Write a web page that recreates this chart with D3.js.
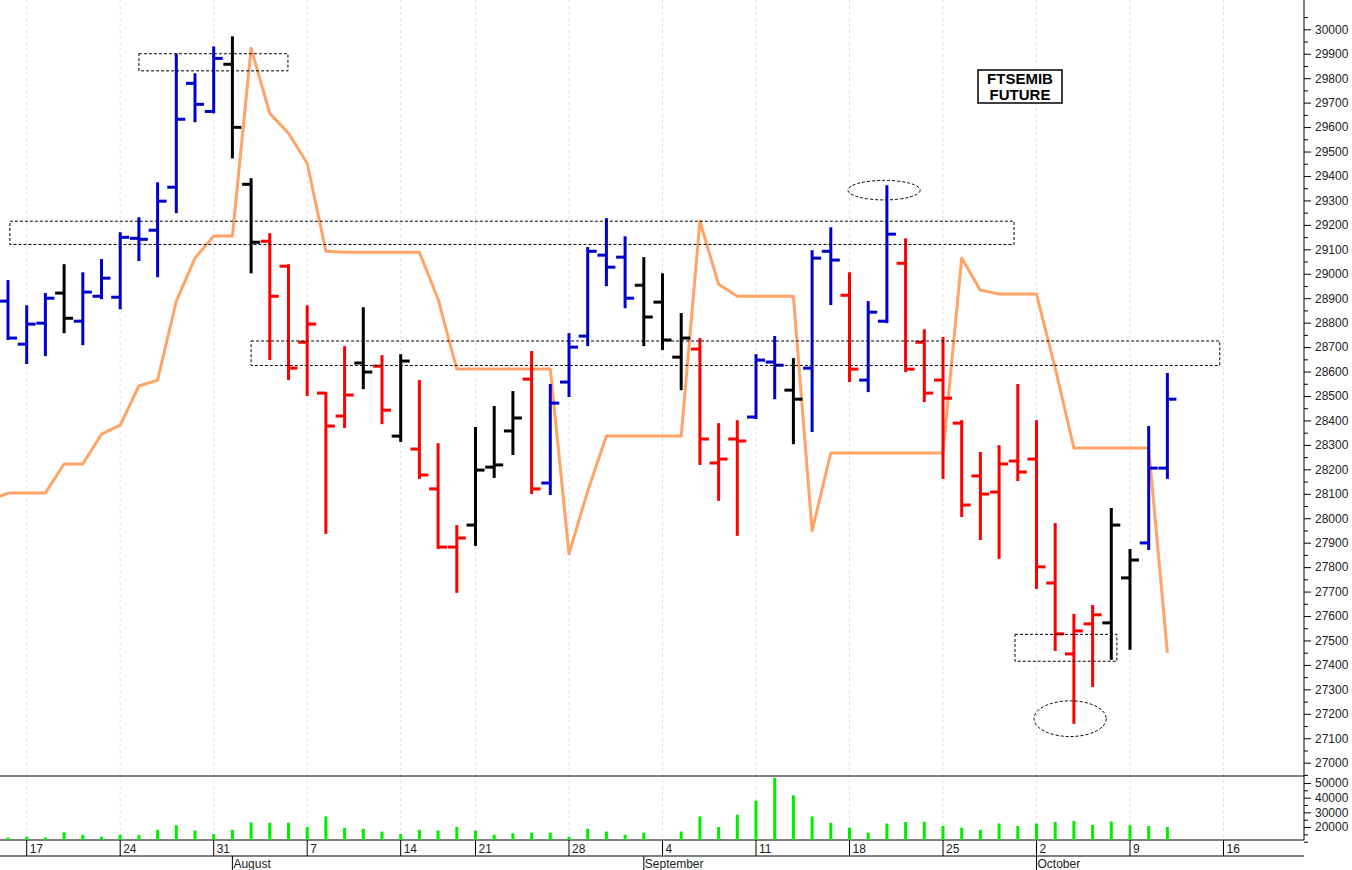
<!DOCTYPE html>
<html><head><meta charset="utf-8">
<script src="https://cdn.jsdelivr.net/npm/d3@7"></script>
<style>body{margin:0;background:#fff}svg{display:block}text{font-family:"Liberation Sans",Arial,sans-serif}</style>
</head><body><svg id="c" width="1352" height="870"></svg>
<script>
const dates=["Jul 14","Jul 17","Jul 18","Jul 19","Jul 20","Jul 21","Jul 24","Jul 25","Jul 26","Jul 27","Jul 28","Jul 31","Aug 1","Aug 2","Aug 3","Aug 4","Aug 7","Aug 8","Aug 9","Aug 10","Aug 11","Aug 14","Aug 16","Aug 17","Aug 18","Aug 21","Aug 22","Aug 23","Aug 24","Aug 25","Aug 28","Aug 29","Aug 30","Aug 31","Sep 1","Sep 4","Sep 5","Sep 6","Sep 7","Sep 8","Sep 11","Sep 12","Sep 13","Sep 14","Sep 15","Sep 18","Sep 19","Sep 20","Sep 21","Sep 22","Sep 25","Sep 26","Sep 27","Sep 28","Sep 29","Oct 2","Oct 3","Oct 4","Oct 5","Oct 6","Oct 9","Oct 10","Oct 11"];
const open=[28888,28712,28798,28921,28806,28908,28904,29145,29178,29354,29779,29664,29857,29366,29133,29031,28720,28512,28418,28635,28622,28336,28283,28120,27882,27972,28209,28357,28569,28144,28557,28745,29076,29068,28953,28884,28659,28692,28226,28324,28414,28639,28524,28614,29092,28912,28565,28806,29043,28720,28565,28389,28173,28107,28234,28242,27735,27445,27568,27572,27756,27899,28205];
const high=[28970,28867,28917,29035,29002,29056,29166,29227,29370,29897,29816,29926,29967,29387,29162,29035,28867,28512,28700,28859,28663,28667,28561,28303,27968,28369,28455,28516,28680,28545,28753,29105,29223,29149,29064,28998,28835,28733,28385,28397,28667,28741,28651,29092,29186,29002,28884,29358,29141,28769,28737,28397,28267,28295,28545,28397,27976,27605,27641,28038,27870,28373,28590];
const low=[28733,28635,28667,28761,28712,28900,28859,29056,28990,29252,29624,29660,29476,29006,28651,28569,28504,27940,28373,28532,28389,28316,28165,27878,27699,27891,28169,28263,28103,28099,28500,28708,28953,28863,28708,28692,28528,28222,28075,27932,28410,28491,28307,28357,28876,28561,28520,28802,28602,28479,28165,28009,27915,27838,28156,27715,27461,27163,27314,27425,27466,27874,28165];
const close=[28737,28794,28900,28818,28925,28982,29149,29141,29297,29632,29693,29881,29599,29129,28908,28614,28794,28377,28504,28598,28442,28643,28177,27882,27919,28197,28218,28410,28120,28471,28700,29092,29027,28900,28823,28729,28737,28324,28242,28316,28647,28626,28487,29064,29056,28610,28843,29162,28610,28512,28491,28054,28099,28222,28189,27801,27527,27539,27605,27972,27829,28205,28487];
const barColor=["b","b","b","k","b","b","b","b","b","b","b","b","k","k","r","r","r","r","r","k","r","k","r","r","r","k","k","k","r","b","b","b","b","b","k","k","k","r","r","r","b","b","k","b","b","r","b","b","r","r","r","r","r","r","r","r","r","r","r","k","k","b","b"];
const trendLine=[28103,28103,28103,28222,28222,28344,28381,28541,28565,28888,29064,29154,29154,29922,29656,29575,29452,29092,29088,29088,29088,29088,29088,28896,28610,28610,28610,28610,28610,28610,27854,28111,28336,28336,28336,28336,28336,29215,28957,28908,28908,28908,28908,27948,28267,28267,28267,28267,28267,28267,28267,29064,28933,28917,28917,28917,28614,28287,28287,28287,28287,28287,27449];
const trendLead=[-0.43,28090];
const volume=[12800,13300,12800,16400,14700,13300,14700,14700,18100,21200,17600,15200,18100,23100,22900,22900,20000,27200,19500,18800,16900,15200,18100,17600,20000,17600,14700,15700,16200,16200,13300,18800,16900,14700,16200,11400,16900,27200,20000,28400,38000,53600,41600,27200,22900,19500,16200,22400,23400,23600,20700,19500,18100,22400,20700,22400,23400,24100,21400,23800,21200,20700,20000];
const weekTicks=[[1,"17"],[6,"24"],[11,"31"],[16,"7"],[21,"14"],[25,"21"],[30,"28"],[35,"4"],[40,"11"],[45,"18"],[50,"25"],[55,"2"],[60,"9"],[65,"16"]];
const monthTicks=[[12,"August"],[34,"September"],[55,"October"]];
const priceTicks=d3.range(27000,30001,100);
const volTicks=[20000,30000,40000,50000];
const boxes=[[7.0,14.97,29900,29830],[0.1,53.8,29215,29120],[13.0,64.8,28725,28625],[53.85,59.3,27525,27415]];
const ellipses=[[46.85,29342,1.93,40],[56.8,27180,1.93,73]];
const titleLines=["FTSEMIB","FUTURE"];

const svg=d3.select("#c");
const axisX=1304;
const x=d3.scaleLinear().domain([0,1]).range([8,26.7]);
const y=d3.scaleLinear().domain([27000,30000]).range([762.7,29.3]);
const yv=d3.scaleLinear().domain([10000,50000]).range([841.7,783]);
const cols={b:"#0000cc",r:"#ff0000",k:"#000000"};

const grid=svg.append("g");
weekTicks.forEach(([i])=>{
  grid.append("line").attr("x1",x(i)).attr("x2",x(i)).attr("y1",0).attr("y2",840)
   .attr("stroke","#e0e0e8").attr("stroke-dasharray","3,3").attr("stroke-width",1);
});
svg.append("line").attr("x1",0).attr("x2",axisX).attr("y1",776).attr("y2",776).attr("stroke","#000");
svg.append("line").attr("x1",0).attr("x2",axisX).attr("y1",840).attr("y2",840).attr("stroke","#000");
svg.append("line").attr("x1",0).attr("x2",axisX).attr("y1",856).attr("y2",856).attr("stroke","#000");
svg.append("line").attr("x1",axisX).attr("x2",axisX).attr("y1",0).attr("y2",840).attr("stroke","#000");

const pa=svg.append("g").attr("transform",`translate(${axisX},0)`)
 .call(d3.axisRight(y).tickValues(priceTicks).tickFormat(d3.format("d")).tickSize(7).tickPadding(4));
pa.select(".domain").remove();
pa.selectAll("text").attr("font-size",12).attr("fill","#222");
const pm=svg.append("g").attr("transform",`translate(${axisX},0)`)
 .call(d3.axisRight(y).tickValues(d3.range(26950,30201,100)).tickFormat("").tickSize(4));
pm.select(".domain").remove();
pm.selectAll(".tick").filter(d=>y(d)<0||y(d)>776).remove();
const va=svg.append("g").attr("transform",`translate(${axisX},0)`)
 .call(d3.axisRight(yv).tickValues(volTicks).tickFormat(d3.format("d")).tickSize(7).tickPadding(4));
va.select(".domain").remove();
va.selectAll("text").attr("font-size",12).attr("fill","#222");
const vm=svg.append("g").attr("transform",`translate(${axisX},0)`)
 .call(d3.axisRight(yv).tickValues([15000,25000,35000,45000,10000]).tickFormat("").tickSize(4));
vm.select(".domain").remove();

weekTicks.forEach(([i,l])=>{
  svg.append("line").attr("x1",x(i)).attr("x2",x(i)).attr("y1",840).attr("y2",856).attr("stroke","#000");
  svg.append("text").attr("x",x(i)+3).attr("y",853).attr("font-size",12).attr("fill","#222").text(l);
});
monthTicks.forEach(([i,l])=>{
  svg.append("line").attr("x1",x(i)).attr("x2",x(i)).attr("y1",856).attr("y2",870).attr("stroke","#000");
  svg.append("text").attr("x",x(i)+1).attr("y",868).attr("font-size",12).attr("fill","#222").text(l);
});

const idx=d3.range(dates.length);
svg.append("g").selectAll("line").data(idx).join("line")
 .attr("x1",i=>x(i)).attr("x2",i=>x(i)).attr("y1",840).attr("y2",i=>yv(volume[i]))
 .attr("stroke","#00ee00").attr("stroke-width",3);

const trendPts=[trendLead].concat(idx.map(i=>[i,trendLine[i]]));
svg.append("path").datum(trendPts).attr("fill","none").attr("stroke","#ffa466").attr("stroke-width",3)
 .attr("stroke-linejoin","round")
 .attr("d",d3.line().x(d=>x(d[0])).y(d=>y(d[1])));

const bg=svg.append("g").selectAll("g").data(idx).join("g").attr("stroke",i=>cols[barColor[i]]).attr("stroke-width",3);
bg.append("line").attr("x1",i=>x(i)).attr("x2",i=>x(i)).attr("y1",i=>y(high[i])-1).attr("y2",i=>y(low[i])+1);
bg.append("line").attr("x1",i=>x(i)-9).attr("x2",i=>x(i)).attr("y1",i=>y(open[i])).attr("y2",i=>y(open[i]));
bg.append("line").attr("x1",i=>x(i)).attr("x2",i=>x(i)+9).attr("y1",i=>y(close[i])).attr("y2",i=>y(close[i]));

boxes.forEach(([a,b,t,bt])=>{
  svg.append("rect").attr("x",x(a)).attr("y",y(t)).attr("width",x(b)-x(a)).attr("height",y(bt)-y(t))
   .attr("fill","none").attr("stroke","#000").attr("stroke-dasharray","3,2").attr("stroke-width",1);
});
ellipses.forEach(([c,p,rx,ry])=>{
  svg.append("ellipse").attr("cx",x(c)).attr("cy",y(p)).attr("rx",x(rx)-x(0)).attr("ry",y(27000)-y(27000+ry))
   .attr("fill","none").attr("stroke","#000").attr("stroke-dasharray","3,2").attr("stroke-width",1);
});

svg.append("rect").attr("x",978).attr("y",70).attr("width",84).attr("height",33).attr("fill","#fff").attr("stroke","#000").attr("stroke-width",1.5);
titleLines.forEach((t,k)=>svg.append("text").attr("x",1020).attr("y",84+k*16).attr("text-anchor","middle")
 .attr("font-size",15).attr("font-weight","bold").text(t));
</script></body></html>
